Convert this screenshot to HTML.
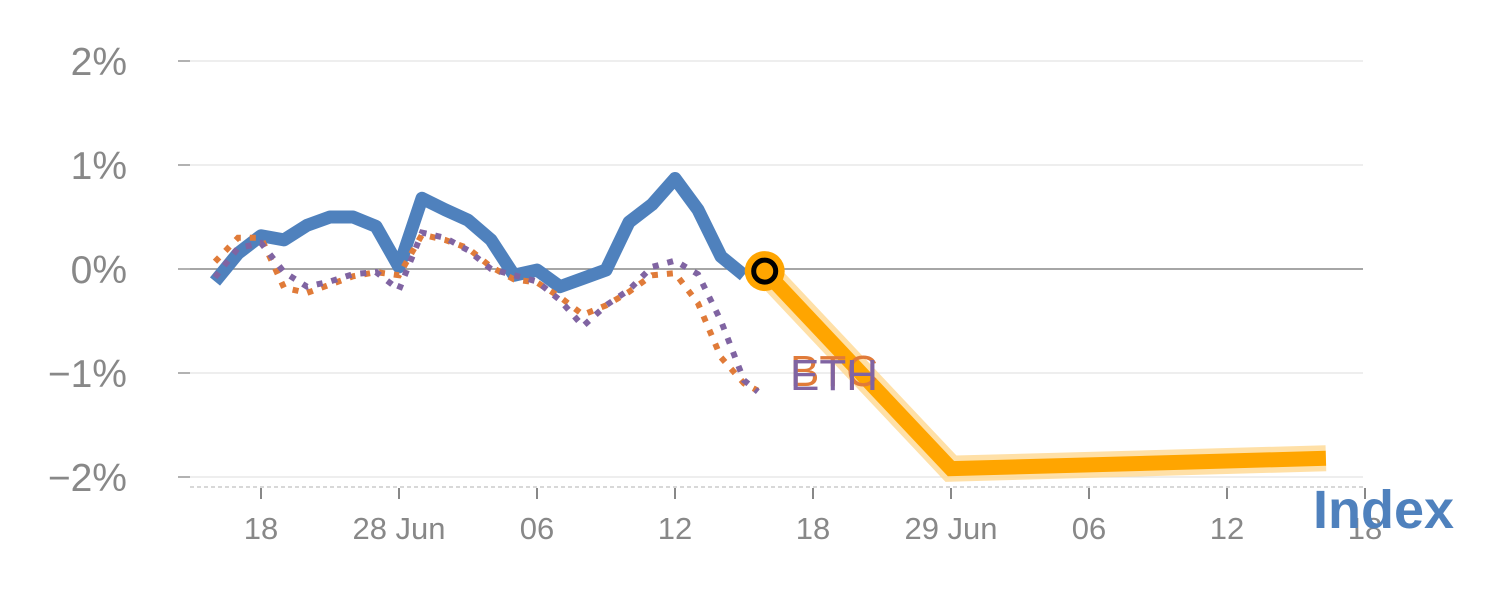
<!DOCTYPE html>
<html><head><meta charset="utf-8"><style>
html,body{margin:0;padding:0;background:#fff;}
svg{display:block;font-family:"Liberation Sans",sans-serif;}
</style></head><body>
<svg id="chart" width="1500" height="600"></svg>
<script>
const yTicks=[2,1,0,-1,-2];
const yTickLabels=["2%","1%","0%","\u22121%","\u22122%"];
const xTickDays=[0,6,12,18,24,30,36,42,48];
const xTickLabels=["18","28 Jun","06","12","18","29 Jun","06","12","18"];
const indexDays=[-2,-1,0,1,2,3,4,5,6,7,8,9,10,11,12,13,14,15,16,17,18,19,20,21];
const indexValues=[-0.12,0.15,0.32,0.28,0.42,0.5,0.5,0.41,0.02,0.68,0.57,0.47,0.28,-0.06,-0.01,-0.17,-0.09,-0.01,0.45,0.62,0.87,0.57,0.12,-0.06];
const btcDays=[-2,-1,0,1,2,3,4,5,6,7,8,9,10,11,12,13,14,15,16,17,18,19,20,21,21.6];
const btcValues=[0.07,0.3,0.3,-0.18,-0.23,-0.15,-0.07,-0.03,-0.06,0.33,0.28,0.2,0.02,-0.1,-0.13,-0.27,-0.44,-0.35,-0.22,-0.06,-0.04,-0.33,-0.85,-1.1,-1.17];
const ethDays=[-2,-1,0,1,2,3,4,5,6,7,8,9,10,11,12,13,14,15,16,17,18,19,20,21,21.6];
const ethValues=[-0.08,0.2,0.25,-0.03,-0.17,-0.12,-0.05,-0.03,-0.2,0.35,0.3,0.18,0.0,-0.06,-0.12,-0.3,-0.55,-0.35,-0.2,0.02,0.08,-0.05,-0.5,-1.07,-1.18];
const forecastDays=[21.9,30,46.3];
const forecastValues=[-0.02,-1.92,-1.82];

const X=d=>261+23*d;
const Y=v=>269-104*v;
const svg=document.getElementById('chart');
const NS='http://www.w3.org/2000/svg';
function el(tag,attrs,parent){const e=document.createElementNS(NS,tag);for(const k in attrs)e.setAttribute(k,attrs[k]);(parent||svg).appendChild(e);return e;}

yTicks.forEach((t,i)=>{
  const g=el('line',{x1:190,x2:1363,y1:Y(t),y2:Y(t),stroke:t===0?'#888':'#e3e3e3','stroke-width':t===0?1.5:1.2});
  
  
  const tk=el('line',{x1:178,x2:190,y1:Y(t),y2:Y(t),stroke:'#999','stroke-width':1.5});
  
  
  const tx=el('text',{x:127,y:Y(t)+14,'text-anchor':'end','font-size':39,fill:'#888'});
  tx.textContent=yTickLabels[i];
  
  
});
const base=el('line',{x1:190,x2:1365,y1:487,y2:487,stroke:'#ccc','stroke-width':1.5,'stroke-dasharray':'4 3'});


xTickDays.forEach((d,i)=>{
  const tk=el('line',{x1:X(d),x2:X(d),y1:488,y2:499,stroke:'#888','stroke-width':2});
  
  
  const tx=el('text',{x:X(d),y:539,'text-anchor':'middle','font-size':31,fill:'#888'});
  tx.textContent=xTickLabels[i];
  
  
});
const pts=(ds,vs)=>ds.map((d,i)=>X(d)+','+Y(vs[i])).join(' ');

const blue=el('polyline',{points:pts(indexDays,indexValues),fill:'none',stroke:'#4f81bd','stroke-width':13,'stroke-linejoin':'round'});


const btc=el('polyline',{points:pts(btcDays,btcValues),fill:'none',stroke:'#e07b39','stroke-width':6,'stroke-dasharray':'6 9'});


const eth=el('polyline',{points:pts(ethDays,ethValues),fill:'none',stroke:'#8064a2','stroke-width':6,'stroke-dasharray':'6 9'});



const halo=el('polyline',{points:pts(forecastDays,forecastValues),fill:'none',stroke:'#ffd891','stroke-width':26,'stroke-opacity':0.8});


const fc=el('polyline',{points:pts(forecastDays,forecastValues),fill:'none',stroke:'#ffa500','stroke-width':15});


const m1=el('circle',{cx:X(forecastDays[0]),cy:Y(forecastValues[0]),r:20,fill:'#ffa500'});


const m2=el('circle',{cx:X(forecastDays[0]),cy:Y(forecastValues[0]),r:11,fill:'#ffa500',stroke:'#000','stroke-width':5});



const lb=el('text',{x:790,y:386,'font-size':44,fill:'#e07b39'});lb.textContent='BTC';


const le=el('text',{x:790,y:390,'font-size':44,fill:'#8064a2'});le.textContent='ETH';


const li=el('text',{x:1313,y:528,'font-size':54,'font-weight':'bold',fill:'#4f81bd'});li.textContent='Index';


</script>
</body></html>
